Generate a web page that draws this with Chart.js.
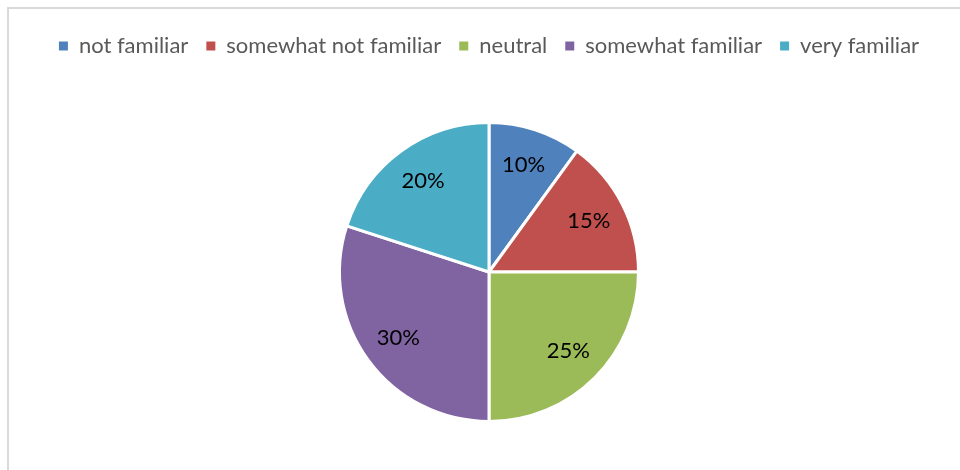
<!DOCTYPE html>
<html>
<head>
<meta charset="utf-8">
<script src="https://cdn.jsdelivr.net/npm/chart.js@4/dist/chart.umd.min.js"></script>
<style>
    html, body { margin: 0; padding: 0; background: #ffffff; overflow: hidden; }
    #cadre { position: absolute; left: 7px; top: 7px; width: 1000px; height: 1000px; border: 2px solid #d9d9d9; }
    #zone { position: absolute; left: 0; top: 0; width: 960px; height: 470px; }
</style>
</head>
<body>
<div id="cadre"></div>
<div id="zone"><canvas id="graph1" width="960" height="470"></canvas></div>
<script>
// Donnees du camembert
const categories = ["not familiar", "somewhat not familiar", "neutral", "somewhat familiar", "very familiar"];
const valeurs = [10, 15, 25, 30, 20];
const couleurs = ["#4F81BD", "#C0504D", "#9BBB59", "#8064A2", "#4BACC6"];

// Plugin pour ecrire le pourcentage dans chaque part
const etiquettes = {
    id: 'etiquettes',
    afterDatasetsDraw(chart) {
        const ctx = chart.ctx;
        const meta = chart.getDatasetMeta(0);
        ctx.save();
        ctx.font = '22px Lato';
        ctx.fillStyle = '#000000';
        ctx.textAlign = 'center';
        ctx.textBaseline = 'middle';
        meta.data.forEach((arc, i) => {
            const p = arc.getProps(['x', 'y', 'startAngle', 'endAngle', 'outerRadius'], true);
            const milieu = (p.startAngle + p.endAngle) / 2;
            const r = p.outerRadius * 0.75;
            ctx.fillText(valeurs[i] + '%', p.x + Math.cos(milieu) * r, p.y + Math.sin(milieu) * r);
        });
        ctx.restore();
    }
};

// Espace supplementaire sous la legende
const espaceLegende = {
    id: 'espaceLegende',
    beforeInit(chart) {
        const fitOrigine = chart.legend.fit;
        chart.legend.fit = function () {
            fitOrigine.bind(chart.legend)();
            this.height += 54;
        };
    }
};

const config = {
    type: 'pie',
    data: {
        labels: categories,
        datasets: [{
            data: valeurs,
            backgroundColor: couleurs,
            borderColor: '#ffffff',
            borderWidth: 3
        }]
    },
    options: {
        responsive: false,
        animation: false,
        layout: { padding: { top: 17, bottom: 47, left: 18, right: 0 } },
        plugins: {
            tooltip: { enabled: false },
            legend: {
                position: 'top',
                labels: {
                    boxWidth: 9,
                    boxHeight: 9,
                    padding: 18,
                    color: '#595959',
                    font: { family: 'Lato', size: 22 },
                    generateLabels(chart) {
                        return Chart.controllers.pie.overrides.plugins.legend.labels.generateLabels(chart)
                            .map(item => Object.assign(item, { lineWidth: 0, strokeStyle: item.fillStyle }));
                    }
                }
            }
        }
    },
    plugins: [etiquettes, espaceLegende]
};

window.onload = function () {
    new Chart(document.getElementById('graph1'), config);
};
</script>
</body>
</html>
